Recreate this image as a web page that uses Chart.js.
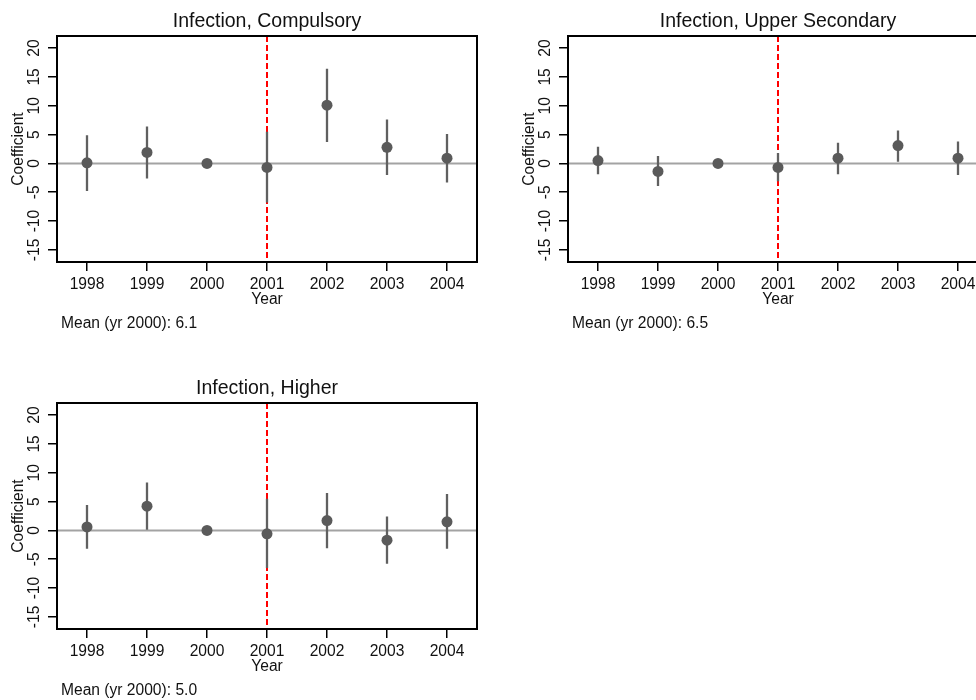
<!DOCTYPE html>
<html><head><meta charset="utf-8">
<script src="https://cdn.jsdelivr.net/npm/chart.js@4.4.1/dist/chart.umd.min.js"></script>
<style>
html,body{margin:0;padding:0;background:#fff;overflow:hidden;width:976px;height:700px;position:relative;}
canvas{position:absolute;}
</style></head><body>
<canvas id="c1" width="488" height="340" style="left:0;top:0"></canvas>
<canvas id="c2" width="488" height="340" style="left:511px;top:0"></canvas>
<canvas id="c3" width="488" height="340" style="left:0;top:367px"></canvas>
<script>
// ---- data ----
const years = [1998, 1999, 2000, 2001, 2002, 2003, 2004];
const yTickValues = [-15, -10, -5, 0, 5, 10, 15, 20];
const treatYear = 2001;
const xMin = 1997.5, xMax = 2004.5;
const yMin = -17.1, yMax = 22.1;

const panelTitles = ["Infection, Compulsory", "Infection, Upper Secondary", "Infection, Higher"];
const meanLabels = ["Mean (yr 2000): 6.1", "Mean (yr 2000): 6.5", "Mean (yr 2000): 5.0"];

const compCoef = [0.1, 1.9, 0, -0.7, 10.1, 2.8, 0.9];
const compLo   = [-4.8, -2.6, null, -6.8, 3.7, -2.0, -3.3];
const compHi   = [4.9, 6.4, null, 5.5, 16.4, 7.6, 5.1];

const upperCoef = [0.5, -1.4, 0, -0.7, 0.9, 3.1, 0.9];
const upperLo   = [-1.9, -3.9, null, -3.1, -1.9, 0.3, -2.0];
const upperHi   = [2.9, 1.3, null, 1.8, 3.6, 5.7, 3.8];

const higherCoef = [0.6, 4.2, 0, -0.6, 1.7, -1.7, 1.5];
const higherLo   = [-3.2, 0.1, null, -6.5, -3.1, -5.8, -3.2];
const higherHi   = [4.4, 8.3, null, 5.5, 6.5, 2.4, 6.3];

// ---- styling ----
const FONT = '"Liberation Sans", Arial, sans-serif';
const fs = 15.6;
const markColor = '#5a5a5a';
const textColor = '#111';

const decor = {
  id: 'decor',
  beforeDatasetsDraw(chart) {
    const {ctx, chartArea: a, scales: {x, y}} = chart;
    ctx.save();
    const y0 = y.getPixelForValue(0);
    ctx.strokeStyle = '#a3a3a3';
    ctx.lineWidth = 2;
    ctx.beginPath(); ctx.moveTo(a.left, y0); ctx.lineTo(a.right, y0); ctx.stroke();
    const xt = x.getPixelForValue(treatYear);
    ctx.strokeStyle = '#ff0000';
    ctx.setLineDash([6, 3]);
    ctx.beginPath(); ctx.moveTo(xt, a.top); ctx.lineTo(xt, a.bottom); ctx.stroke();
    ctx.restore();
  },
  afterDraw(chart) {
    const {ctx, chartArea: a, scales: {y}} = chart;
    const o = chart.options.plugins.decor;
    ctx.save();
    ctx.strokeStyle = '#000';
    ctx.lineWidth = 2;
    ctx.strokeRect(a.left, a.top, a.right - a.left, a.bottom - a.top);
    ctx.fillStyle = textColor;
    ctx.font = fs + 'px ' + FONT;
    ctx.textAlign = 'center';
    ctx.textBaseline = 'middle';
    y.ticks.forEach(t => {
      ctx.save();
      ctx.translate(a.left - 22, y.getPixelForValue(t.value));
      ctx.rotate(-Math.PI / 2);
      ctx.fillText(String(t.value), 0, 0);
      ctx.restore();
    });
    ctx.textAlign = 'left';
    ctx.font = fs + 'px ' + FONT;
    ctx.fillText(o.note, a.left + 4, a.bottom + 62);
    ctx.restore();
  }
};

function makeChart(id, title, note, coef, lo, hi) {
  const ciData = [];
  years.forEach((yr, i) => {
    if (lo[i] == null) return;
    ciData.push({x: yr, y: lo[i]}, {x: yr, y: hi[i]}, {x: yr, y: null});
  });
  const ptData = years.map((yr, i) => ({x: yr, y: coef[i]}));
  return new Chart(document.getElementById(id), {
    type: 'scatter',
    data: {
      datasets: [
        {data: ptData, pointRadius: 5.5, pointHoverRadius: 5.5, backgroundColor: markColor, borderWidth: 0, showLine: false, order: 0},
        {data: ciData, showLine: true, spanGaps: false, pointRadius: 0, borderColor: '#606060', borderWidth: 2.3, order: 1}
      ]
    },
    options: {
      responsive: false,
      animation: false,
      devicePixelRatio: 1,
      layout: {padding: {left: 0, right: 11, top: 0, bottom: 30}},
      plugins: {
        legend: {display: false},
        tooltip: {enabled: false},
        title: {display: true, text: title, fullSize: false, color: textColor,
                font: {family: FONT, size: 19.5, weight: 'normal'}, padding: {top: 10, bottom: 2.6}},
        decor: {note: note}
      },
      scales: {
        x: {
          type: 'linear', min: xMin, max: xMax, offset: false,
          afterBuildTicks: s => { s.ticks = years.map(v => ({value: v})); },
          afterFit: s => { s.height = 48; },
          ticks: {color: textColor, font: {family: FONT, size: fs}, padding: 4, autoSkip: false, maxRotation: 0,
                  callback: v => String(v)},
          grid: {drawOnChartArea: false, drawTicks: true, tickLength: 9, color: '#000', lineWidth: 1.5},
          border: {display: true, color: '#000', width: 2},
          title: {display: true, text: 'Year', color: textColor, font: {family: FONT, size: fs}, padding: {top: 0, bottom: 1}}
        },
        y: {
          type: 'linear', min: yMin, max: yMax,
          afterBuildTicks: s => { s.ticks = yTickValues.map(v => ({value: v})); },
          afterFit: s => { s.width = 57; },
          ticks: {display: false},
          grid: {drawOnChartArea: false, drawTicks: true, tickLength: 9, color: '#000', lineWidth: 1.5},
          border: {display: true, color: '#000', width: 2},
          title: {display: true, text: 'Coefficient', color: textColor, font: {family: FONT, size: fs}, padding: {top: 9, bottom: 0}}
        }
      }
    },
    plugins: [decor]
  });
}

makeChart('c1', panelTitles[0], meanLabels[0], compCoef, compLo, compHi);
makeChart('c2', panelTitles[1], meanLabels[1], upperCoef, upperLo, upperHi);
makeChart('c3', panelTitles[2], meanLabels[2], higherCoef, higherLo, higherHi);
</script>
</body></html>
